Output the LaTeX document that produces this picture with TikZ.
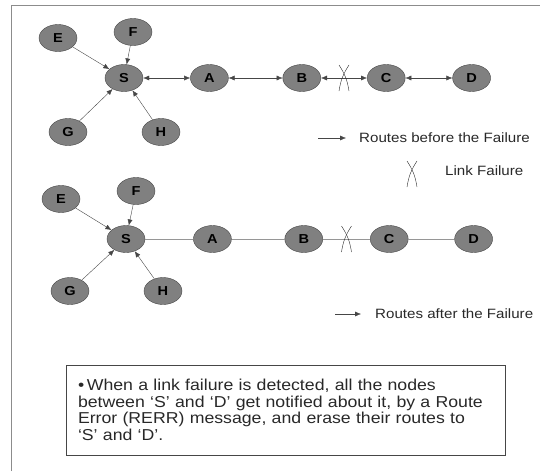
\documentclass[tikz,border=0pt]{standalone}
\usepackage{fontspec}
\setmainfont[FakeStretch=1.12]{Liberation Sans}
\usetikzlibrary{arrows.meta,positioning,shapes.geometric,calc}
\definecolor{nodeGray}{RGB}{128,128,128}
\definecolor{edgeGray}{RGB}{70,70,70}
\definecolor{lineGray}{RGB}{150,150,150}
\definecolor{frameGray}{RGB}{140,140,140}
\definecolor{textGray}{RGB}{40,40,40}

\begin{document}
\begin{tikzpicture}[x=1pt,y=-1pt,
  nd/.style={ellipse,draw=edgeGray,fill=nodeGray,minimum width=38pt,minimum height=27pt,inner sep=0pt,font=\fontsize{13}{13}\selectfont\bfseries},
  arrow/.style={-{Latex[length=6pt,width=5pt]},edgeGray},
  darrow/.style={{Latex[length=6pt,width=5pt]}-{Latex[length=6pt,width=5pt]},edgeGray},
  plain/.style={lineGray,semithick},
  lbl/.style={anchor=west,inner sep=0pt,text=textGray,font=\fontsize{13.5}{13.5}\selectfont},
  cut/.pic={\draw[textGray] (-5,-13) to[bend left=12] (5,13); \draw[textGray] (5,-13) to[bend right=12] (-5,13);}
]
  \useasboundingbox (0,0) rectangle (540,471);
  \draw[frameGray,thick] (11,471) |- (540,5);

  % before the failure
  \node[nd] (s1) at (124,78) {S};
  \node[nd,right=47pt of s1] (a1) {A};
  \node[nd,right=54pt of a1] (b1) {B};
  \node[nd,right=46pt of b1] (c1) {C};
  \node[nd,right=47pt of c1] (d1) {D};
  \node[nd] (e1) at (58,38) {E};
  \node[nd] (f1) at (133,32) {F};
  \node[nd] (g1) at (68,132) {G};
  \node[nd] (h1) at (161,132) {H};
  \draw[arrow] (e1) -- (s1);
  \draw[arrow] (f1) -- (s1);
  \draw[arrow] (g1) -- (s1);
  \draw[arrow] (h1) -- (s1);
  \draw[darrow] (s1) -- (a1);
  \draw[darrow] (a1) -- (b1);
  \draw[darrow] (b1) -- (c1);
  \draw[darrow] (c1) -- (d1);
  \pic at ($(b1)!0.5!(c1)$) {cut};

  % legend
  \coordinate (k1) at (318,138);
  \coordinate (k2) at (346,138);
  \draw[arrow] (k1) -- (k2);
  \node[lbl] (before) at (359,138) {Routes before the Failure};
  \pic at (412,174) {cut};
  \node[lbl] (fail) at (445,171) {Link Failure};

  % after the failure
  \node[nd] (s2) at (126,239) {S};
  \node[nd,right=48pt of s2] (a2) {A};
  \node[nd,right=53pt of a2] (b2) {B};
  \node[nd,right=47pt of b2] (c2) {C};
  \node[nd,right=46pt of c2] (d2) {D};
  \node[nd] (e2) at (61,199) {E};
  \node[nd] (f2) at (136,191) {F};
  \node[nd] (g2) at (70,291) {G};
  \node[nd] (h2) at (163,291) {H};
  \draw[arrow] (e2) -- (s2);
  \draw[arrow] (f2) -- (s2);
  \draw[arrow] (g2) -- (s2);
  \draw[arrow] (h2) -- (s2);
  \draw[plain] (s2) -- (a2);
  \draw[plain] (a2) -- (b2);
  \draw[plain] (b2) -- (c2);
  \draw[plain] (c2) -- (d2);
  \pic at ($(b2)!0.5!(c2)$) {cut};

  \coordinate (k3) at (335,314);
  \coordinate (k4) at (361,314);
  \draw[arrow] (k3) -- (k4);
  \node[lbl] (after) at (375,314) {Routes after the Failure};

  % note
  \node[draw=edgeGray,minimum width=439pt,minimum height=90pt,text width=415pt,align=left,text=textGray,font=\fontsize{15.8}{16.5}\selectfont] (note) at (285.5,410)
    {\textbullet\,When a link failure is detected, all the nodes\\
     between ‘S’ and ‘D’ get notified about it, by a Route\\
     Error (RERR) message, and erase their routes to\\
     ‘S’ and ‘D’.};
\end{tikzpicture}
\end{document}
